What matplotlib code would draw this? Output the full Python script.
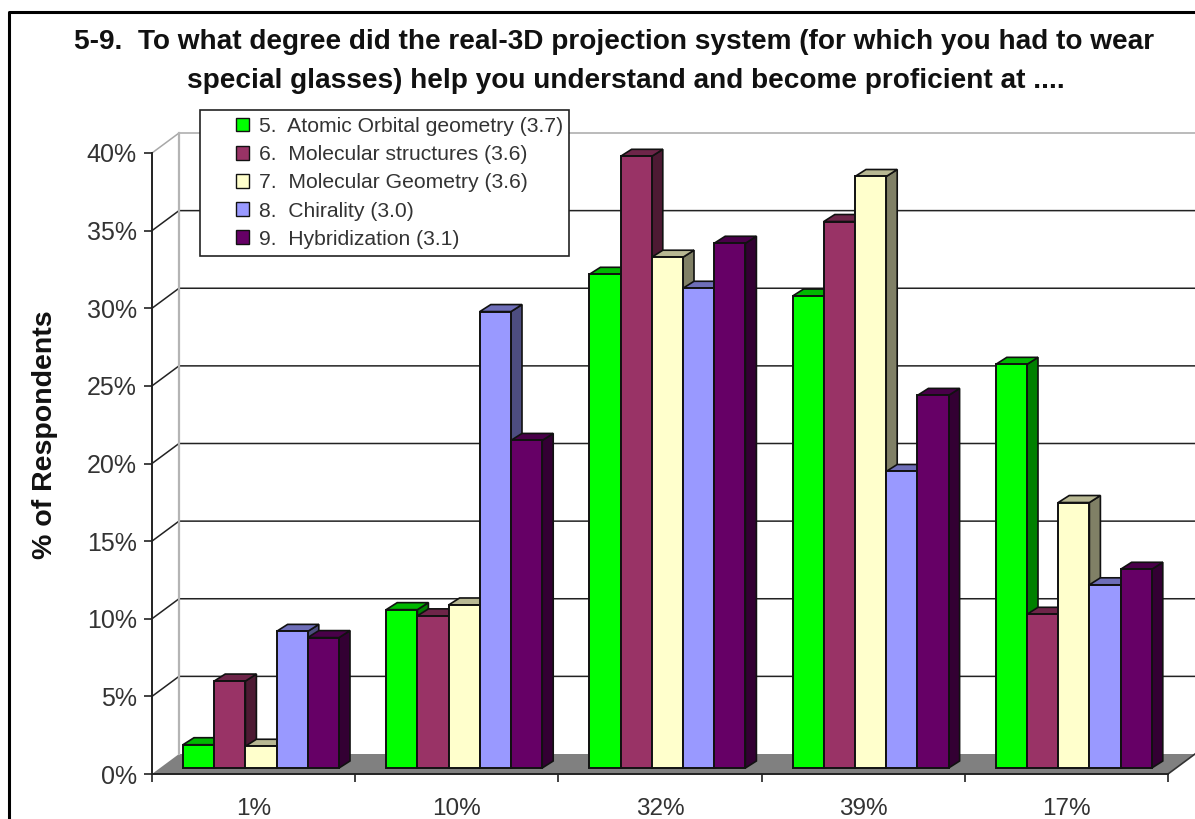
import matplotlib
matplotlib.use('Agg')
import matplotlib.pyplot as plt
from matplotlib.patches import Patch, Rectangle
from matplotlib.colors import to_rgb

plt.rcParams['font.family'] = ['Liberation Sans', 'DejaVu Sans']

categories = ['1%', '10%', '32%', '39%', '17%']
series_names = ['5.  Atomic Orbital geometry (3.7)', '6.  Molecular structures (3.6)',
                '7.  Molecular Geometry (3.6)', '8.  Chirality (3.0)', '9.  Hybridization (3.1)']
atomic = [1.5, 10.2, 31.8, 30.4, 26.0]
molecular = [5.6, 9.8, 39.4, 35.2, 9.9]
geometry = [1.4, 10.5, 32.9, 38.1, 17.1]
chirality = [8.8, 29.4, 30.9, 19.1, 11.8]
hybrid = [8.4, 21.1, 33.8, 24.0, 12.8]
series = [atomic, molecular, geometry, chirality, hybrid]
colors = ['#00FF00', '#993366', '#FFFFCC', '#9999FF', '#660066']
yticks = [0, 5, 10, 15, 20, 25, 30, 35, 40]

W, H = 1195, 819
fig = plt.figure(figsize=(W / 100, H / 100), dpi=100, facecolor='white')
ax = fig.add_axes([152 / W, (H - 774) / H, 1016 / W, 621 / H])
ax.set_xlim(0, 5)
ax.set_ylim(0, 40)
ax.patch.set_visible(False)

# pixels -> data units, the 3D look is only an offset
px_x = 5 / 1016
px_y = 40 / 621
wall_dx, wall_dy = 27 * px_x, 20 * px_y
bar_dx, bar_dy = 11 * px_x, 7 * px_y
base = 6 * px_y
start = 31 * px_x
bar_w = 31.2 * px_x
edge = '#111111'


def shade(c, f):
    return tuple(v * f for v in to_rgb(c))


# floor and walls
ax.fill([0, wall_dx, 5 + wall_dx, 5], [0, wall_dy, wall_dy, 0], color='#808080', lw=0, clip_on=False, zorder=1)
ax.plot([5, 5 + wall_dx], [0, wall_dy], color='#333333', lw=1.2, clip_on=False, zorder=1.5)
ax.plot([wall_dx, wall_dx], [wall_dy, 40 + wall_dy], color='#b4b4b4', lw=1.6, clip_on=False, zorder=1.2)
for v in yticks[1:]:
    c = '#a8a8a8' if v == 40 else '#222222'
    ax.plot([0, wall_dx, 5 + wall_dx], [v, v + wall_dy, v + wall_dy], color=c, lw=1.1,
            clip_on=False, zorder=1.1)

# bars, left to right so each one covers the side of the one before
z = 2
for g in range(len(categories)):
    for s, vals in enumerate(series):
        x0 = g + start + s * bar_w
        x1 = x0 + bar_w
        top = base + vals[g]
        ax.fill([x1, x1 + bar_dx, x1 + bar_dx, x1], [base, base + bar_dy, top + bar_dy, top],
                facecolor=shade(colors[s], 0.5), edgecolor=edge, lw=1.2, clip_on=False, zorder=z)
        ax.fill([x0, x0 + bar_dx, x1 + bar_dx, x1], [top, top + bar_dy, top + bar_dy, top],
                facecolor=shade(colors[s], 0.72), edgecolor=edge, lw=1.2, clip_on=False, zorder=z)
        ax.bar(x0, vals[g], width=bar_w, bottom=base, align='edge', color=colors[s], edgecolor=edge,
               lw=1.4, clip_on=False, zorder=z + 0.5)
        z += 1

for side in ['top', 'right']:
    ax.spines[side].set_visible(False)
for side in ['left', 'bottom']:
    ax.spines[side].set_linewidth(1.4)
    ax.spines[side].set_color('#222222')
    ax.spines[side].set_zorder(500)

ax.set_yticks(yticks)
ax.set_yticklabels(['%d%%' % v for v in yticks], fontsize=18, color='#333333')
ax.set_xticks(range(6))
ax.set_xticklabels([])
ax.set_xticks([i + 0.5 for i in range(5)], minor=True)
ax.set_xticklabels(categories, minor=True, fontsize=17.5, color='#333333')
ax.tick_params(axis='x', which='major', length=6, width=1.2, color='#222222')
ax.tick_params(axis='x', which='minor', length=0, pad=17)
ax.tick_params(axis='y', length=6, width=1.2, color='#222222', pad=5)

# legend box, frame separate because of the wide left margin
fig.add_artist(Rectangle((200 / W, 1 - 256 / H), 369 / W, 146 / H, transform=fig.transFigure,
                         facecolor='white', edgecolor='#222222', lw=1.2, zorder=600))
handles = [Patch(facecolor=c, edgecolor='#111111', lw=1) for c in colors]
leg = fig.legend(handles, series_names, loc='upper left', bbox_to_anchor=(236 / W, 1 - 117 / H),
                 bbox_transform=fig.transFigure, frameon=False, fontsize=15.2, borderpad=0, borderaxespad=0,
                 handlelength=0.62, handleheight=0.62, handletextpad=0.45, labelspacing=0.435,
                 labelcolor='#333333')
leg.set_zorder(700)

# outer border, only left and top are in the picture
fig.add_artist(plt.Line2D([9 / W, 9 / W, 1], [0, 1 - 12 / H, 1 - 12 / H], color='black', lw=2.2,
                          transform=fig.transFigure))

fig.text(614 / W, 1 - 42 / H, '5-9.  To what degree did the real-3D projection system (for which you had to wear',
         ha='center', va='center', fontsize=20.2, fontweight='bold', color='#111111')
fig.text(626 / W, 1 - 81 / H, 'special glasses) help you understand and become proficient at ....',
         ha='center', va='center', fontsize=20.2, fontweight='bold', color='#111111')
fig.text(45 / W, 1 - 435 / H, '% of Respondents', rotation=90, ha='center', va='center',
         fontsize=20.5, fontweight='bold', color='#111111')

fig.savefig('out.png', dpi=100)
